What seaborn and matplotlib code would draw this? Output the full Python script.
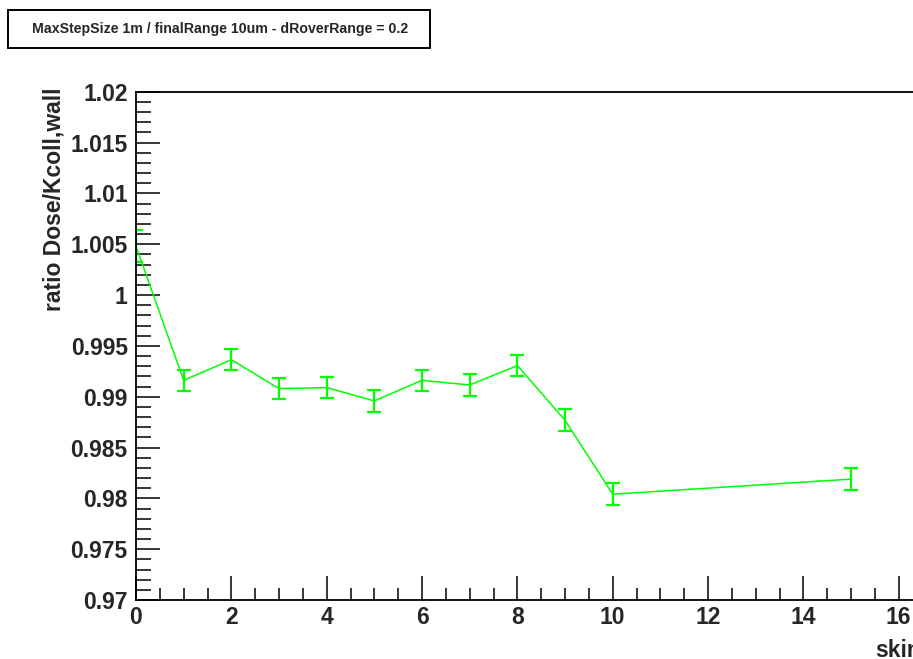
import matplotlib
matplotlib.use("Agg")
import matplotlib.pyplot as plt
import seaborn as sns
import pandas as pd
from matplotlib.patches import Rectangle
from matplotlib.ticker import MultipleLocator

# skin values and ratio
skin = [0, 1, 2, 3, 4, 5, 6, 7, 8, 9, 10, 15]
ratio = [1.0048, 0.9916, 0.99364, 0.99079, 0.9909, 0.98958,
         0.99161, 0.99115, 0.99306, 0.98768, 0.98041, 0.98189]
err = [0.0016, 0.00104, 0.00106, 0.00106, 0.00106, 0.00106,
       0.00106, 0.00106, 0.00106, 0.00106, 0.00106, 0.00106]

title = "MaxStepSize 1m / finalRange 10um - dRoverRange = 0.2"
ylabel = "ratio Dose/Kcoll,wall"
xlabel = "skin"

df = pd.DataFrame({"skin": skin, "ratio": ratio, "err": err})

sns.set_style("ticks")
plt.rcParams["font.family"] = ["Liberation Sans", "DejaVu Sans"]
plt.rcParams["font.weight"] = "bold"

W, H = 913, 659
fig = plt.figure(figsize=(W / 100, H / 100), dpi=100)

# axes: x=0 at 136px, 47.67 px per unit, y from 91.7 to 600 px
x0, ytop, ybot = 136, 91.7, 600
xmax = 17
axw = xmax * 47.67
ax = fig.add_axes([x0 / W, (H - ybot) / H, axw / W, (ybot - ytop) / H])

green = "#00ff00"
sns.lineplot(data=df, x="skin", y="ratio", ax=ax, color=green, lw=1.1,
             legend=False)
ax.errorbar(df["skin"], df["ratio"], yerr=df["err"], fmt="none",
            ecolor=green, elinewidth=1.6, capsize=5, capthick=1.6)

ax.set_xlim(0, xmax)
ax.set_ylim(0.97, 1.02)
ax.xaxis.set_major_locator(MultipleLocator(2))
ax.xaxis.set_minor_locator(MultipleLocator(0.5))
ax.yaxis.set_major_locator(MultipleLocator(0.005))
ax.yaxis.set_minor_locator(MultipleLocator(0.001))
ax.set_yticks(ax.get_yticks())
ax.set_yticklabels([f"{v:g}" for v in ax.get_yticks()])
ax.set_ylim(0.97, 1.02)

ax.tick_params(which="both", direction="in", top=False, right=False,
               labelsize=16.5, color="black", width=1.1)
ax.tick_params(which="major", length=17)
ax.tick_params(axis="y", which="minor", length=11)
ax.tick_params(axis="x", which="minor", length=9)
ax.tick_params(axis="y", pad=6)
ax.tick_params(axis="x", pad=4)
for lab in ax.get_xticklabels() + ax.get_yticklabels():
    lab.set_fontweight("bold")
for s in ax.spines.values():
    s.set_linewidth(1.3)
    s.set_color("black")

ax.set_xlabel("")
ax.set_ylabel(ylabel, fontsize=16.5, fontweight="bold", loc="top")
ax.yaxis.set_label_coords(-70 / axw, 1 + 4.5 / (ybot - ytop))

# x title sits at the right edge, cut off like in the original
fig.text(875 / W, 1 - 657 / H, xlabel, fontsize=16.5, fontweight="bold",
         ha="left", va="baseline")

# title box
fig.patches.append(Rectangle((8 / W, 1 - 48 / H), 422 / W, 38 / H,
                             transform=fig.transFigure, fill=False,
                             edgecolor="black", lw=1.4))
fig.text(220 / W, 1 - 29 / H, title, fontsize=10.2, fontweight="bold",
         ha="center", va="center")

fig.savefig("out.png", dpi=100)
